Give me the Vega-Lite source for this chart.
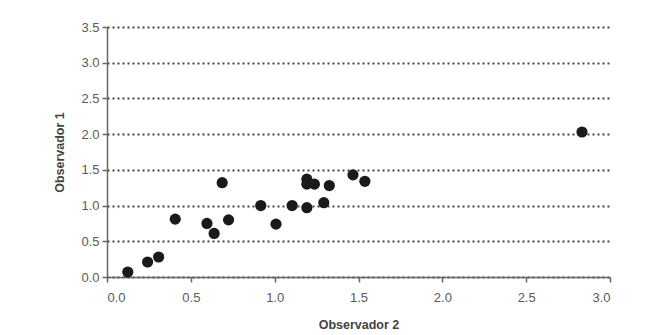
{
  "$schema": "https://vega.github.io/schema/vega-lite/v6.json",
  "width": 503,
  "height": 250,
  "autosize": {"type": "none"},
  "padding": {"left": 107, "top": 27, "right": 53, "bottom": 58},
  "background": "#ffffff",
  "config": {
    "view": {"stroke": null},
    "font": "Liberation Sans",
    "axis": {
      "labelFont": "Liberation Sans",
      "labelFontSize": 13,
      "labelColor": "#5a5a5a",
      "titleFont": "Liberation Sans",
      "titleFontSize": 12.5,
      "titleFontWeight": "bold",
      "titleColor": "#444444",
      "domainColor": "#666666",
      "domainWidth": 1.5,
      "tickColor": "#666666",
      "tickWidth": 1.5,
      "tickSize": 5
    }
  },
  "data": {
    "values": [
      {"obs2": 0.124, "obs1": 0.07},
      {"obs2": 0.242, "obs1": 0.21},
      {"obs2": 0.308, "obs1": 0.28},
      {"obs2": 0.407, "obs1": 0.81},
      {"obs2": 0.596, "obs1": 0.75},
      {"obs2": 0.639, "obs1": 0.61},
      {"obs2": 0.687, "obs1": 1.32},
      {"obs2": 0.725, "obs1": 0.80},
      {"obs2": 0.917, "obs1": 1.00},
      {"obs2": 1.008, "obs1": 0.74},
      {"obs2": 1.104, "obs1": 1.00},
      {"obs2": 1.192, "obs1": 0.97},
      {"obs2": 1.192, "obs1": 1.37},
      {"obs2": 1.192, "obs1": 1.30},
      {"obs2": 1.237, "obs1": 1.30},
      {"obs2": 1.293, "obs1": 1.04},
      {"obs2": 1.326, "obs1": 1.28},
      {"obs2": 1.467, "obs1": 1.43},
      {"obs2": 1.538, "obs1": 1.34},
      {"obs2": 2.833, "obs1": 2.03}
    ]
  },
  "mark": {"type": "circle", "size": 125, "color": "#1a1a1a", "opacity": 1},
  "encoding": {
    "x": {
      "field": "obs2",
      "type": "quantitative",
      "title": "Observador 2",
      "scale": {"domain": [0, 3], "nice": false, "zero": true},
      "axis": {
        "values": [0, 0.5, 1, 1.5, 2, 2.5, 3],
        "format": ".1f",
        "grid": false,
        "labelPadding": 9,
        "titlePadding": 14
      }
    },
    "y": {
      "field": "obs1",
      "type": "quantitative",
      "title": "Observador 1",
      "scale": {"domain": [0, 3.5], "nice": false},
      "axis": {
        "values": [0, 0.5, 1, 1.5, 2, 2.5, 3, 3.5],
        "format": ".1f",
        "grid": true,
        "gridColor": "#444444",
        "gridDash": [2, 3],
        "gridWidth": 2,
        "labelPadding": 3,
        "titlePadding": 14
      }
    }
  }
}
